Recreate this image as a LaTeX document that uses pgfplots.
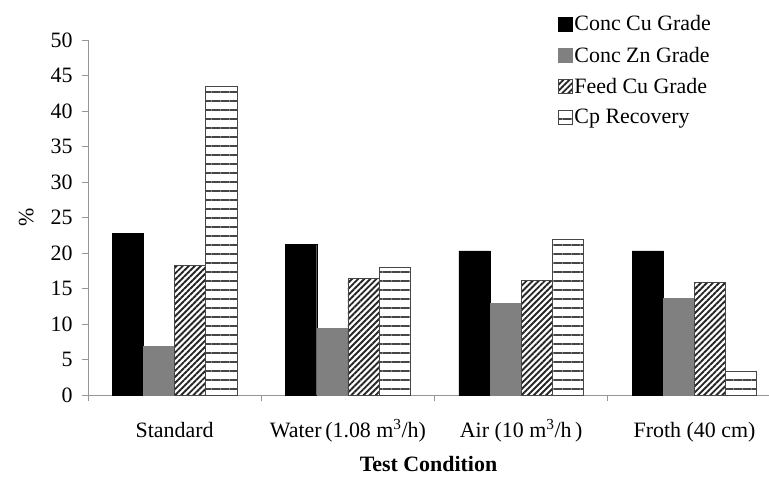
\documentclass[border=0pt]{standalone}
\usepackage{fontspec}
\setmainfont{Liberation Serif}
\usepackage{pgfplots}
\pgfplotsset{compat=1.18}
\usetikzlibrary{patterns.meta,calc}

\definecolor{zngray}{RGB}{128,128,128}
\definecolor{edgegray}{RGB}{70,70,70}
\definecolor{axgray}{RGB}{150,150,150}

\begin{document}
\begin{tikzpicture}
\begin{axis}[
    scale only axis,
    width=681bp, height=355bp,
    ybar=0pt, bar width=0.18,
    xmin=-0.5, xmax=3.43,
    ymin=0, ymax=50,
    ytick={0,5,...,50},
    xtick={0,1,2,3},
    xticklabels={Standard, Water\,(1.08 m\textsuperscript{3}/h), Air (10 m\textsuperscript{3}/h\,), Froth (40 cm)},
    minor xtick={-0.5,0.5,1.5,2.5},
    major x tick style={draw=none},
    minor x tick style={axgray, thick},
    minor tick length=6bp,
    major tick length=6bp,
    y tick style={axgray, thick},
    tick align=outside,
    axis x line*=bottom, axis y line*=left,
    axis line style={axgray, thick},
    /pgf/number format/assume math mode=true,
    ticklabel style={font=\fontsize{22}{26}\selectfont},
    xticklabel style={anchor=base, yshift=-36bp},
    yticklabel style={xshift=-6bp},
    ylabel={\%}, ylabel style={font=\fontsize{22}{26}\selectfont, yshift=10bp},
    xlabel={\textbf{Test Condition}}, xlabel style={font=\fontsize{22}{26}\selectfont, yshift=-8bp},
    legend style={at={(0.685,1.08)}, anchor=north west, draw=none, fill=none,
        font=\fontsize{22}{26}\selectfont, row sep=10.5bp,
        /tikz/every odd column/.append style={column sep=0bp}},
    legend cell align=left,
    legend image code/.code={\draw[#1] (0bp,-7bp) rectangle (14bp,7bp);},
]
\addplot[fill=black, draw=black] coordinates {(0,22.8) (1,21.2) (2,20.3) (3,20.3)};
\addplot[fill=zngray, draw=zngray] coordinates {(0,6.9) (1,9.4) (2,12.9) (3,13.6)};
\addplot[draw=edgegray, thick, pattern={Lines[angle=45, distance=4.3bp, line width=1.9bp]}, pattern color=black!85] coordinates {(0,18.3) (1,16.4) (2,16.1) (3,15.8)};
\addplot[draw=edgegray, thick, pattern={Lines[angle=0, distance=9bp, line width=1.3bp]}, pattern color=edgegray] coordinates {(0,43.5) (1,18.0) (2,21.9) (3,3.3)};
\legend{Conc Cu Grade, Conc Zn Grade, Feed Cu Grade, Cp Recovery}
\coordinate (o) at (rel axis cs:0,0);
\end{axis}
\pgfresetboundingbox
\path ($(o)+(-88bp,-84bp)$) rectangle ($(o)+(681bp,395bp)$);
\end{tikzpicture}
\end{document}
